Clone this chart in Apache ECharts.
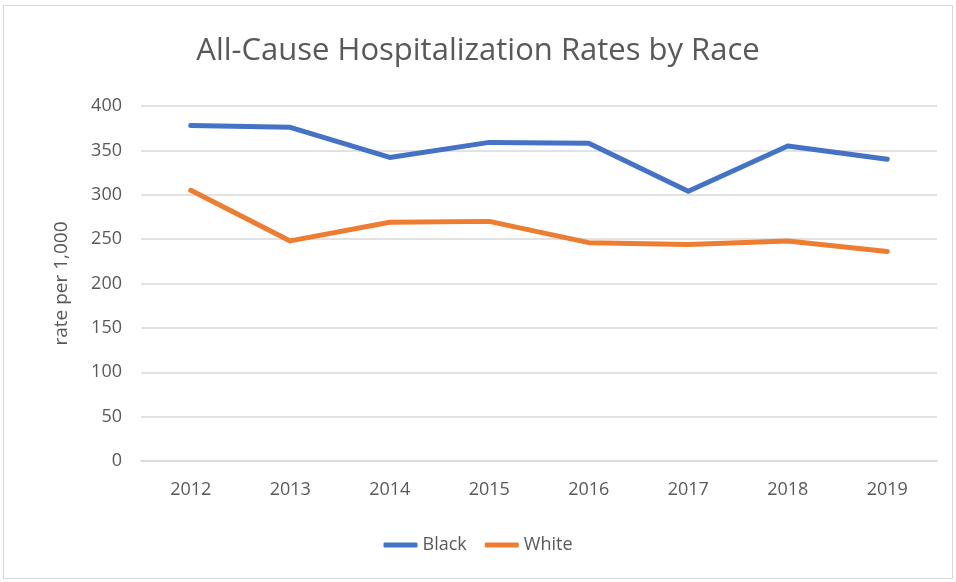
<!DOCTYPE html>
<html>
<head>
    <meta charset="utf-8">
    <title>All-Cause Hospitalization Rates by Race</title>
    <script src="https://cdn.jsdelivr.net/npm/echarts@6.0.0/dist/echarts.min.js"></script>
    <style>
        html, body { margin: 0; padding: 0; background: #fff; }
        #chart {
            position: absolute;
            left: 3px; top: 5px;
            width: 950px; height: 574px;
            border: 1px solid #d9d9d9;
            box-sizing: border-box;
        }
    </style>
</head>
<body>
<div id="chart"></div>
<script>
    const years = ['2012', '2013', '2014', '2015', '2016', '2017', '2018', '2019'];
    const black = [378, 376, 342, 359, 358, 304, 355, 340];
    const white = [305, 248, 269, 270, 246, 244, 248, 236];
    const yTicks = [0, 50, 100, 150, 200, 250, 300, 350, 400];

    const txt = '#595959';
    const font = '"Open Sans", sans-serif';

    const chart = echarts.init(document.getElementById('chart'));
    chart.setOption({
        animation: false,
        title: {
            text: 'All-Cause Hospitalization Rates by Race',
            left: 'center',
            top: 25,
            textStyle: { color: txt, fontSize: 31, fontWeight: 'normal', fontFamily: font }
        },
        legend: {
            bottom: 19,
            left: 'center',
            itemWidth: 34,
            itemHeight: 5,
            itemGap: 18,
            icon: 'roundRect',
            textStyle: { color: txt, fontSize: 18, fontFamily: font },
            data: ['Black', 'White']
        },
        grid: { left: 137, right: 15, top: 100, bottom: 117 },
        xAxis: {
            type: 'category',
            data: years,
            boundaryGap: true,
            axisLine: { lineStyle: { color: '#d9d9d9', width: 1.5 } },
            axisTick: { show: false },
            axisLabel: { color: txt, fontSize: 18, fontFamily: font, margin: 20 }
        },
        yAxis: {
            type: 'value',
            min: yTicks[0],
            max: yTicks[yTicks.length - 1],
            interval: 50,
            name: 'rate per 1,000',
            nameLocation: 'middle',
            nameGap: 70,
            nameTextStyle: { color: txt, fontSize: 19, fontFamily: font },
            axisLine: { show: false },
            axisTick: { show: false },
            axisLabel: { color: txt, fontSize: 18, fontFamily: font, margin: 19 },
            splitLine: { lineStyle: { color: '#d9d9d9', width: 1.5 } }
        },
        series: [
            {
                name: 'Black',
                type: 'line',
                data: black,
                symbol: 'none',
                lineStyle: { color: '#4472C4', width: 5, cap: 'round', join: 'round' },
                itemStyle: { color: '#4472C4' }
            },
            {
                name: 'White',
                type: 'line',
                data: white,
                symbol: 'none',
                lineStyle: { color: '#ED7D31', width: 5, cap: 'round', join: 'round' },
                itemStyle: { color: '#ED7D31' }
            }
        ]
    });
</script>
</body>
</html>
